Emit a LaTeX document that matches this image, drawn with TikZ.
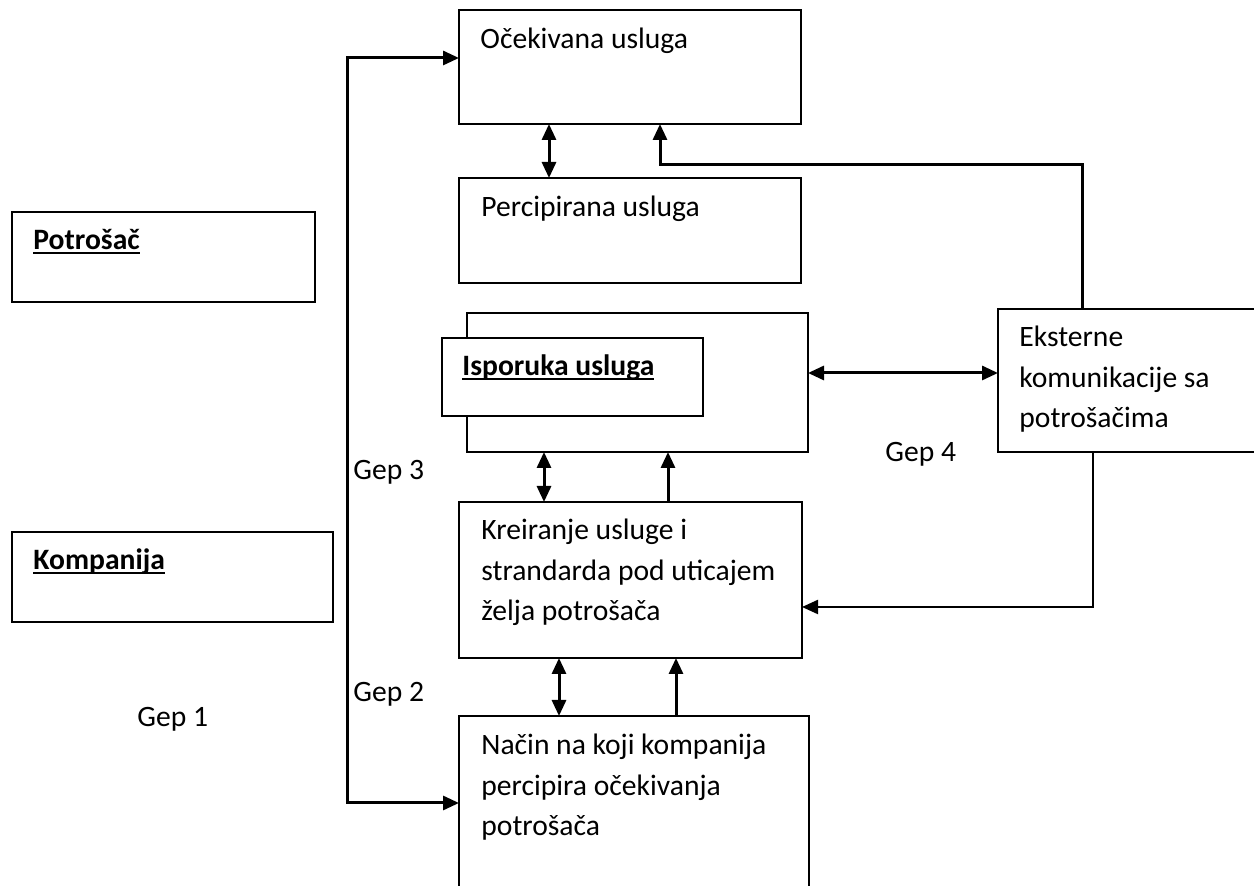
\documentclass[tikz,border=0pt]{standalone}
\usepackage{fontspec}
\setmainfont{Carlito}
\usetikzlibrary{arrows.meta}
% underline that sits close to the baseline and crosses descenders
\newcommand\ulword[1]{{\setbox0\hbox{#1}\rlap{\rule[-2pt]{\wd0}{1pt}}\box0}}

\begin{document}
\begin{tikzpicture}[x=0.5pt,y=-0.5pt,
  box/.style={draw, line width=1.2pt, inner sep=0pt, outer sep=0pt, fill=white},
  lbl/.style={anchor=base west, inner sep=0pt, align=left,
              font=\fontsize{14.8}{20.25}\selectfont},
  hdr/.style={lbl, font=\fontsize{14.8}{20.25}\selectfont\bfseries},
  tipA/.style={-{Triangle[length=8pt,width=7pt]}},
  link/.style={line width=1.5pt, tipA},
  thinlink/.style={line width=1.1pt, tipA},
  dlink/.style={line width=1.5pt, {Triangle[length=8pt,width=7pt]}-{Triangle[length=8pt,width=7pt]}}]
\useasboundingbox (0,0) rectangle (1254,886);
\clip (0,0) rectangle (1254,886);

% boxes
\node[box, minimum width=171pt, minimum height=57pt] (exp) at (630,67) {};
\node[box, minimum width=171pt, minimum height=52.5pt] (perc) at (630,230.5) {};
\node[box, minimum width=170.5pt, minimum height=69.5pt] (ispO) at (637.5,382.5) {};
\node[box, minimum width=130.5pt, minimum height=39pt] (ispI) at (572.5,377) {};
\node[box, minimum width=171.5pt, minimum height=78pt] (kre) at (630.5,580) {};
\node[box, minimum width=175pt, minimum height=97pt] (nac) at (634,813) {};
\node[box, minimum width=141pt, minimum height=71.5pt] (ext) at (1139,380.5) {};
\node[box, minimum width=151.5pt, minimum height=45pt] (pot) at (163.5,257) {};
\node[box, minimum width=160.5pt, minimum height=45pt] (kom) at (172.5,577) {};

% box texts (multi-line nodes are placed by the baseline of their last line)
\node[lbl] (expT) at (480,49) {Očekivana usluga};
\node[lbl] (percT) at (481,217) {Percipirana usluga};
\node[hdr] (ispT) at (462,376) {\ulword{Isporuka usluga}};
\node[lbl] (extT) at (1019,428) {Eksterne\\komunikacije sa\\potrošačima};
\node[lbl] (kreT) at (481,621) {Kreiranje usluge i\\strandarda pod uticajem\\želja potrošača};
\node[lbl] (nacT) at (481,836) {Način na koji kompanija\\percipira očekivanja\\potrošača};
\node[hdr] (potT) at (33,250) {\ulword{Potrošač}};
\node[hdr] (komT) at (33,570) {\ulword{Kompanija}};

% gap labels
\node[lbl] (gep1) at (137,727) {Gep 1};
\node[lbl] (gep2) at (353,702) {Gep 2};
\node[lbl] (gep3) at (353,480) {Gep 3};
\node[lbl] (gep4) at (885,462) {Gep 4};

% connectors
\coordinate (Ltop) at (347,58);
\coordinate (Lbot) at (347,803);
\draw[dlink] (Ltop -| exp.west) -- (Ltop) -- (Lbot) -- (Lbot -| nac.west);

\coordinate (a1) at (549,0);
\draw[dlink] (exp.south -| a1) -- (perc.north -| a1);

\coordinate (r1) at (1082,165);
\coordinate (r2) at (660,165);
\draw[link] (ext.north -| r1) -- (r1) -- (r2) -- (exp.south -| r2);

\coordinate (h1) at (0,373);
\draw[dlink] (ispO.east |- h1) -- (ext.west |- h1);

\coordinate (a2) at (544,0);
\coordinate (a3) at (668,0);
\draw[dlink] (ispO.south -| a2) -- (kre.north -| a2);
\draw[link] (kre.north -| a3) -- (ispO.south -| a3);

\coordinate (r3) at (1093,607);
\draw[thinlink] (ext.south -| r3) -- (r3) -- (kre.east |- r3);

\coordinate (a4) at (559,0);
\coordinate (a5) at (676,0);
\draw[dlink] (kre.south -| a4) -- (nac.north -| a4);
\draw[link] (nac.north -| a5) -- (kre.south -| a5);
\end{tikzpicture}
\end{document}
